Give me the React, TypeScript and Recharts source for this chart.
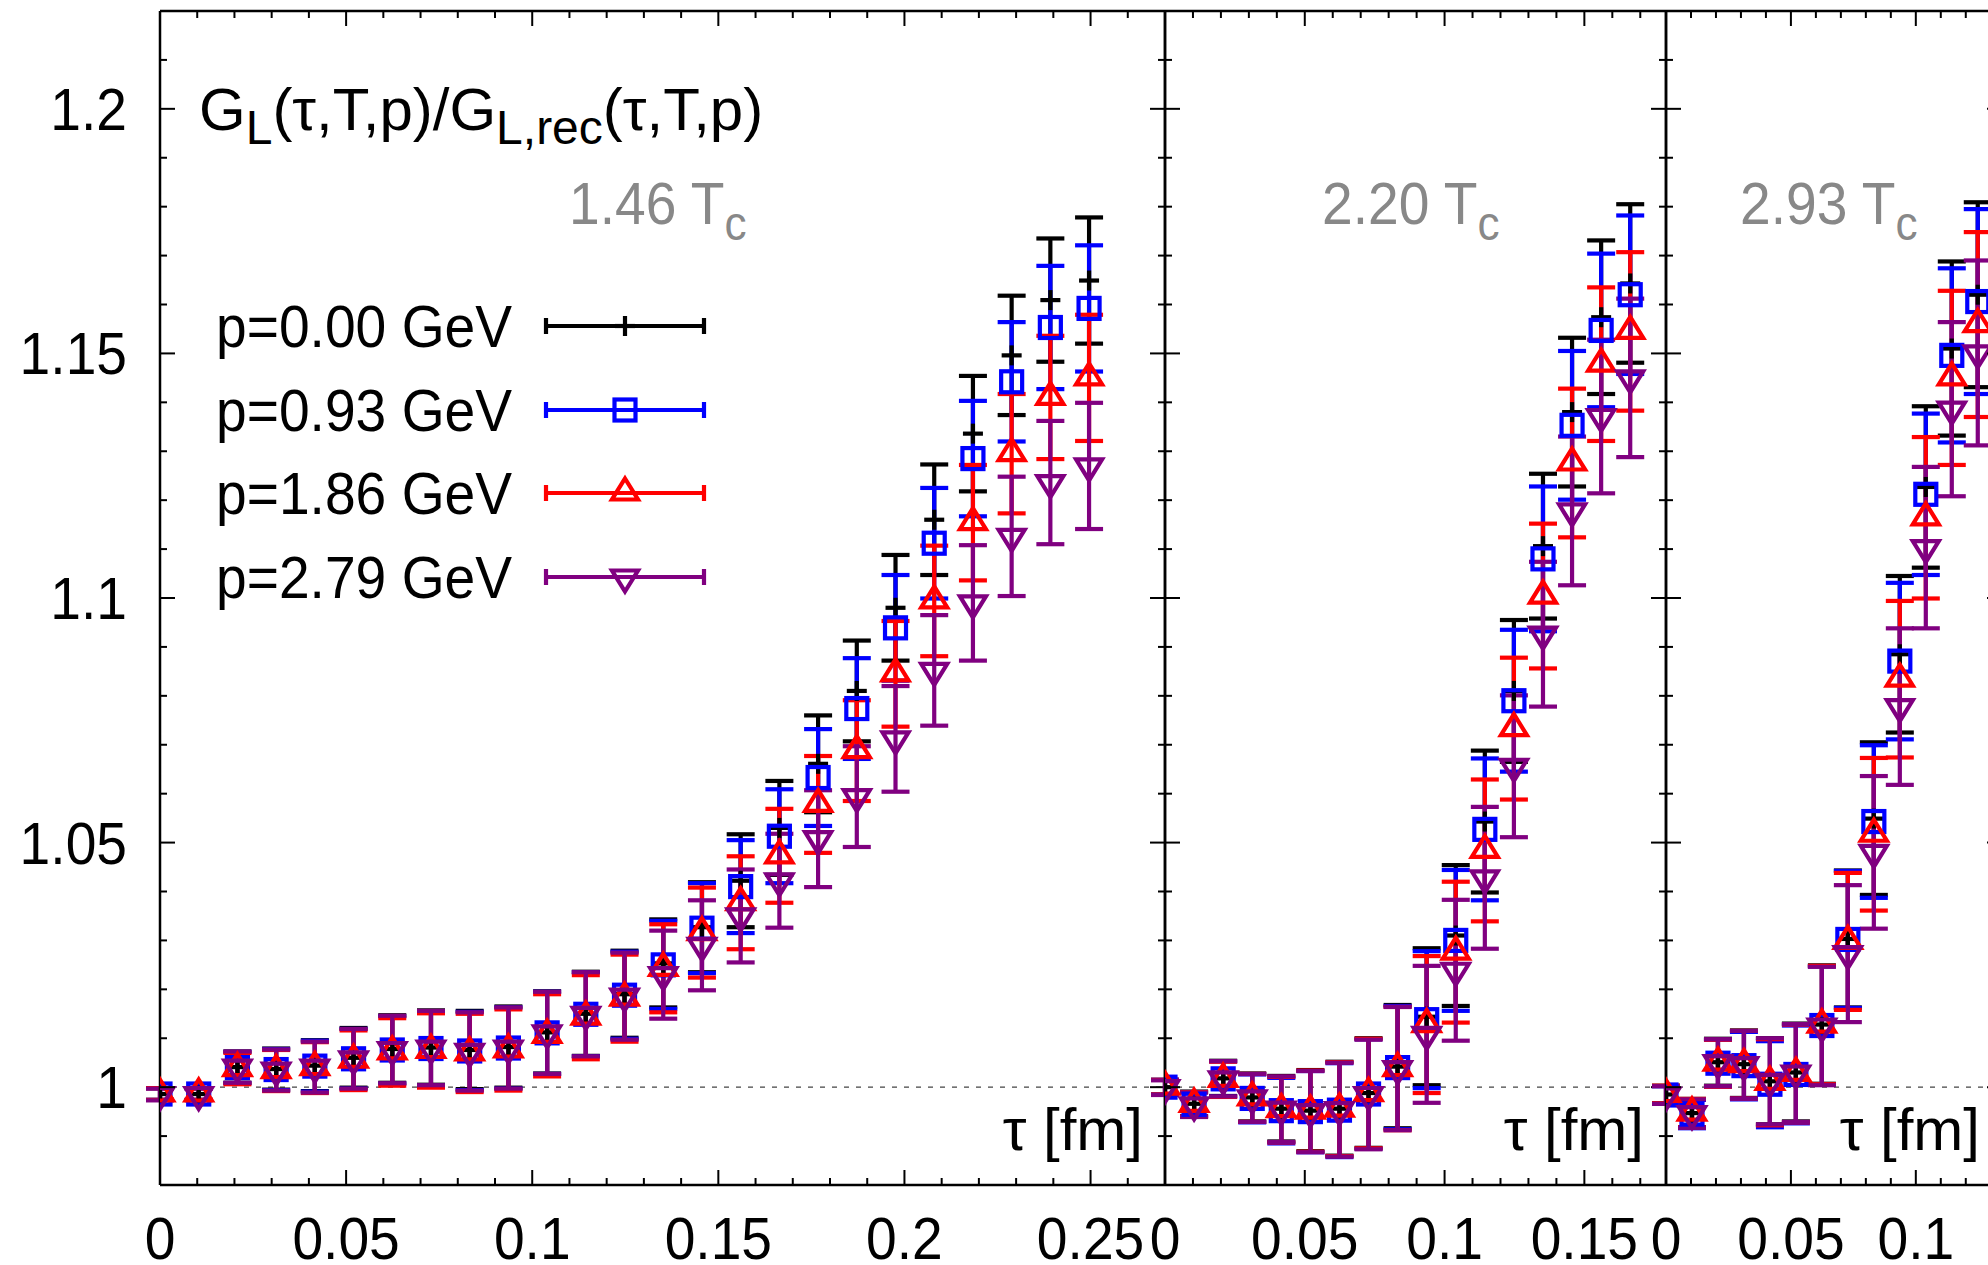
import { ScatterChart, Scatter, XAxis, YAxis, ErrorBar, ReferenceLine, Legend } from 'recharts'

const FONT = '"Liberation Sans", Arial, Helvetica, sans-serif'
const W = 1988
const H = 1265
const PLOT_TOP = 11
const PLOT_BOTTOM = 1185
const LW = 4.2

const SERIES_NAMES = ['p=0.00 GeV', 'p=0.93 GeV', 'p=1.86 GeV', 'p=2.79 GeV']
const COLORS = ['#000000', '#0000ff', '#ff0000', '#800080']
const KINDS = ['plus', 'square', 'up', 'down']

// tau [fm], same lattice spacing in all three panels
const TAU = [
  0, 0.0104, 0.0208, 0.0312, 0.0416, 0.052, 0.0624, 0.0728, 0.0832, 0.0936, 0.104, 0.1144, 0.1248,
  0.1352, 0.1456, 0.156, 0.1664, 0.1768, 0.1872, 0.1976, 0.208, 0.2184, 0.2288, 0.2392, 0.2496,
]

const X_TICKS = [
  0, 0.01, 0.02, 0.03, 0.04, 0.05, 0.06, 0.07, 0.08, 0.09, 0.1, 0.11, 0.12, 0.13, 0.14, 0.15,
  0.16, 0.17, 0.18, 0.19, 0.2, 0.21, 0.22, 0.23, 0.24, 0.25, 0.26, 0.27,
]
const Y_TICKS = [
  0.98, 0.99, 1.0, 1.01, 1.02, 1.03, 1.04, 1.05, 1.06, 1.07, 1.08, 1.09, 1.1, 1.11, 1.12, 1.13,
  1.14, 1.15, 1.16, 1.17, 1.18, 1.19, 1.2, 1.21, 1.22,
]

// 1.46 Tc
const T146_P000 = [0.9986, 0.9986, 1.0041, 1.0037, 1.0044, 1.006, 1.0078, 1.0081, 1.0076, 1.0082, 1.0112, 1.015, 1.019, 1.0253, 1.0327, 1.0422, 1.053, 1.0661, 1.081, 1.098, 1.116, 1.1336, 1.1496, 1.1609, 1.1649]
const T146_P093 = [0.9986, 0.9986, 1.004, 1.0036, 1.0043, 1.0058, 1.0076, 1.0079, 1.0074, 1.008, 1.0111, 1.0149, 1.0188, 1.025, 1.0325, 1.041, 1.0513, 1.0633, 1.0774, 1.0939, 1.1112, 1.1285, 1.1442, 1.1553, 1.1592]
const T146_P186 = [0.9986, 0.9986, 1.0038, 1.0034, 1.004, 1.0055, 1.0072, 1.0075, 1.007, 1.0076, 1.0106, 1.0143, 1.0182, 1.0243, 1.0316, 1.0377, 1.0473, 1.0578, 1.0688, 1.0845, 1.0994, 1.1154, 1.1295, 1.141, 1.145]
const T146_P279 = [0.9985, 0.9985, 1.0041, 1.0035, 1.0041, 1.0058, 1.0077, 1.008, 1.0073, 1.008, 1.0111, 1.0149, 1.0186, 1.023, 1.029, 1.035, 1.0422, 1.0508, 1.0594, 1.0712, 1.0852, 1.099, 1.1126, 1.1236, 1.127]
const T146_ERR = [0.0012, 0.0012, 0.0032, 0.0042, 0.0052, 0.0061, 0.0069, 0.0076, 0.008, 0.0083, 0.0084, 0.0086, 0.0089, 0.009, 0.0092, 0.0095, 0.0096, 0.0099, 0.0103, 0.0108, 0.0113, 0.0118, 0.0122, 0.0126, 0.0129]

// 2.20 Tc
const T220_P000 = [1.0, 0.9966, 1.0018, 0.9979, 0.9956, 0.9952, 0.9956, 0.9988, 1.0042, 1.0144, 1.031, 1.0543, 1.081, 1.1106, 1.138, 1.1574, 1.1643]
const T220_P093 = [1.0, 0.9965, 1.0017, 0.9977, 0.9952, 0.995, 0.9953, 0.9986, 1.004, 1.0138, 1.03, 1.0527, 1.079, 1.108, 1.1353, 1.1547, 1.162]
const T220_P186 = [1.0, 0.9965, 1.0016, 0.9978, 0.9954, 0.9951, 0.9955, 0.9987, 1.0038, 1.0128, 1.0276, 1.0484, 1.0733, 1.1004, 1.1276, 1.1478, 1.1545]
const T220_P279 = [0.9999, 0.9964, 1.0017, 0.9978, 0.9955, 0.995, 0.9954, 0.9985, 1.0038, 1.0108, 1.0239, 1.0428, 1.0656, 1.0926, 1.1178, 1.1371, 1.145]
const T220_ERR = [0.0015, 0.0025, 0.0036, 0.0049, 0.0067, 0.0083, 0.0096, 0.0112, 0.0126, 0.014, 0.0144, 0.0145, 0.0145, 0.0148, 0.0152, 0.0157, 0.0162]

// 2.93 Tc
const T293_P000 = [0.9985, 0.9947, 1.0051, 1.0047, 1.0012, 1.003, 1.0128, 1.0303, 1.0549, 1.0885, 1.1227, 1.151, 1.162]
const T293_P093 = [0.9984, 0.9945, 1.0049, 1.0044, 1.0006, 1.0026, 1.0126, 1.0302, 1.0543, 1.0871, 1.1212, 1.1496, 1.1606]
const T293_P186 = [0.9985, 0.9947, 1.0049, 1.0046, 1.001, 1.0028, 1.0127, 1.0298, 1.0517, 1.0834, 1.1164, 1.145, 1.1559]
const T293_P279 = [0.9984, 0.9946, 1.005, 1.0046, 1.0012, 1.0029, 1.0125, 1.0273, 1.048, 1.0778, 1.1103, 1.1386, 1.1501]
const T293_ERR = [0.0018, 0.0029, 0.0048, 0.0069, 0.0088, 0.01, 0.0121, 0.014, 0.0156, 0.016, 0.0165, 0.0178, 0.0189]

const PANELS = [
  { temp: '1.46', left: 160, width: 1005, xmax: 0.27, nTau: 25, values: [T146_P000, T146_P093, T146_P186, T146_P279], err: T146_ERR, tempX: 569 },
  { temp: '2.20', left: 1165, width: 501, xmax: 0.1792, nTau: 17, values: [T220_P000, T220_P093, T220_P186, T220_P279], err: T220_ERR, tempX: 1322 },
  { temp: '2.93', left: 1666, width: 336, xmax: 0.1345, nTau: 13, values: [T293_P000, T293_P093, T293_P186, T293_P279], err: T293_ERR, tempX: 1740 },
]

const isMajor = (v: number) => Math.round(v * 100) % 5 === 0

function Txt({ x, y, anchor = 'start', fill = '#000', size = 60, sx = 0.92, children }: any) {
  return (
    <text
      transform={`translate(${x},${y}) scale(${sx},1)`}
      textAnchor={anchor}
      fontFamily={FONT}
      fontSize={size}
      fill={fill}
    >
      {children}
    </text>
  )
}

function Marker({ cx, cy, kind, color }: any) {
  const common = { fill: 'none', stroke: color, strokeWidth: LW, strokeLinejoin: 'miter' as const }
  if (kind === 'plus') {
    return (
      <g {...common}>
        <line x1={cx - 10} x2={cx + 10} y1={cy} y2={cy} />
        <line x1={cx} x2={cx} y1={cy - 10} y2={cy + 10} />
      </g>
    )
  }
  if (kind === 'square') return <rect x={cx - 10.5} y={cy - 10.5} width={21} height={21} {...common} />
  if (kind === 'up') {
    return <path d={`M${cx},${cy - 14.5} L${cx + 13},${cy + 6.5} L${cx - 13},${cy + 6.5} Z`} {...common} />
  }
  return <path d={`M${cx},${cy + 14.5} L${cx + 13},${cy - 6.5} L${cx - 13},${cy - 6.5} Z`} {...common} />
}

function BottomTick({ x, y, payload }: any) {
  const v = payload.value
  const major = isMajor(v)
  return (
    <g>
      <line x1={x} x2={x} y1={y} y2={y - (major ? 15 : 7)} stroke="#000" strokeWidth={2} />
      {major && (
        <Txt x={x} y={y + 74} anchor="middle">
          {String(v)}
        </Txt>
      )}
    </g>
  )
}

function TopTick({ x, y, payload }: any) {
  const major = isMajor(payload.value)
  return <line x1={x} x2={x} y1={y} y2={y + (major ? 15 : 7)} stroke="#000" strokeWidth={2} />
}

function LeftTickLabelled({ x, y, payload }: any) {
  const v = payload.value
  const major = isMajor(v)
  return (
    <g>
      <line x1={x} x2={x + (major ? 15 : 7)} y1={y} y2={y} stroke="#000" strokeWidth={2} />
      {major && (
        <Txt x={x - 33} y={y + 21} anchor="end">
          {String(v)}
        </Txt>
      )}
    </g>
  )
}

function LeftTick({ x, y, payload }: any) {
  const major = isMajor(payload.value)
  return <line x1={x} x2={x + (major ? 15 : 7)} y1={y} y2={y} stroke="#000" strokeWidth={2} />
}

function RightTick({ x, y, payload }: any) {
  const major = isMajor(payload.value)
  return <line x1={x} x2={x - (major ? 15 : 7)} y1={y} y2={y} stroke="#000" strokeWidth={2} />
}

// legend drawn inside the first panel
const LEGEND_LEFT = 200
const LEGEND_TOP = 290
const LEGEND_ROWS = [36, 120, 203, 287]

function LegendBox({ payload }: any) {
  const items = (payload || []).filter((p: any) => SERIES_NAMES.includes(p.value))
  return (
    <svg width={560} height={330} style={{ display: 'block', overflow: 'visible' }}>
      {items.map((p: any, i: number) => {
        const k = SERIES_NAMES.indexOf(p.value)
        const cy = LEGEND_ROWS[i]
        const c = COLORS[k]
        return (
          <g key={p.value}>
            <Txt x={16} y={cy + 21}>
              {p.value}
            </Txt>
            <line x1={346} x2={504} y1={cy} y2={cy} stroke={c} strokeWidth={LW} />
            <line x1={346} x2={346} y1={cy - 8} y2={cy + 8} stroke={c} strokeWidth={LW} />
            <line x1={504} x2={504} y1={cy - 8} y2={cy + 8} stroke={c} strokeWidth={LW} />
            <Marker cx={425} cy={cy} kind={KINDS[k]} color={c} />
          </g>
        )
      })}
    </svg>
  )
}

function Panel({ cfg, index }: any) {
  const first = index === 0
  const ml = first ? 160 : 40
  const mr = 40
  const divLeft = cfg.left - ml
  const w = ml + cfg.width + mr
  const tau = TAU.slice(0, cfg.nTau)
  const xTicks = X_TICKS.filter((t) => t <= cfg.xmax + 1e-9)
  const rx = (px: number) => px - divLeft
  const axisLine = { stroke: '#000', strokeWidth: 2.5 }

  return (
    <div style={{ position: 'absolute', left: divLeft, top: 0 }}>
      <ScatterChart
        width={w}
        height={H}
        margin={{ top: PLOT_TOP - 1, right: mr - 1, bottom: H - PLOT_BOTTOM - 1, left: ml - 1 }}
      >
        <XAxis
          xAxisId="b"
          type="number"
          dataKey="x"
          domain={[0, cfg.xmax]}
          ticks={xTicks}
          interval={0}
          allowDataOverflow
          height={1}
          tickSize={0}
          tickMargin={0}
          tickLine={false}
          axisLine={axisLine}
          tick={BottomTick}
        />
        <XAxis
          xAxisId="t"
          orientation="top"
          type="number"
          dataKey="x"
          domain={[0, cfg.xmax]}
          ticks={xTicks}
          interval={0}
          allowDataOverflow
          height={1}
          tickSize={0}
          tickMargin={0}
          tickLine={false}
          axisLine={axisLine}
          tick={TopTick}
        />
        <YAxis
          yAxisId="l"
          type="number"
          dataKey="y"
          domain={[0.98, 1.22]}
          ticks={Y_TICKS}
          interval={0}
          allowDataOverflow
          width={1}
          tickSize={0}
          tickMargin={0}
          tickLine={false}
          axisLine={axisLine}
          tick={first ? LeftTickLabelled : LeftTick}
        />
        <YAxis
          yAxisId="r"
          orientation="right"
          type="number"
          dataKey="y"
          domain={[0.98, 1.22]}
          ticks={Y_TICKS}
          interval={0}
          allowDataOverflow
          width={1}
          tickSize={0}
          tickMargin={0}
          tickLine={false}
          axisLine={axisLine}
          tick={RightTick}
        />
        <ReferenceLine
          xAxisId="b"
          yAxisId="l"
          y={1}
          stroke="#444"
          strokeWidth={1.2}
          strokeDasharray="5 7"
        />
        {cfg.values.map((vals: number[], k: number) => (
          <Scatter
            key={SERIES_NAMES[k]}
            name={SERIES_NAMES[k]}
            xAxisId="b"
            yAxisId="l"
            data={tau.map((t: number, i: number) => ({ x: t, y: vals[i], e: cfg.err[i] }))}
            fill={COLORS[k]}
            isAnimationActive={false}
            shape={(p: any) => <Marker cx={p.cx} cy={p.cy} kind={KINDS[k]} color={COLORS[k]} />}
          >
            <ErrorBar
              dataKey="e"
              direction="y"
              width={14}
              strokeWidth={LW}
              stroke={COLORS[k]}
              isAnimationActive={false}
            />
          </Scatter>
        ))}
        {first && (
          <Legend
            layout="horizontal"
            verticalAlign="middle"
            align="center"
            content={LegendBox}
            wrapperStyle={{
              position: 'absolute',
              left: LEGEND_LEFT,
              top: LEGEND_TOP,
              width: 560,
              height: 330,
              margin: 0,
              padding: 0,
              lineHeight: 0,
            }}
          />
        )}
        {first && (
          <Txt x={rx(199)} y={130} sx={1}>
            G<tspan fontSize={48} dy={14}>L</tspan>
            <tspan fontSize={60} dy={-14}>(τ,T,p)/G</tspan>
            <tspan fontSize={48} dy={14}>L,rec</tspan>
            <tspan fontSize={60} dy={-14}>(τ,T,p)</tspan>
          </Txt>
        )}
        <Txt x={rx(cfg.tempX)} y={224} fill="#888888">
          {cfg.temp} T<tspan fontSize={48} dy={16}>c</tspan>
        </Txt>
        <Txt x={rx(cfg.left + cfg.width - 22)} y={1150} anchor="end" sx={1}>
          τ [fm]
        </Txt>
      </ScatterChart>
    </div>
  )
}

export default function App() {
  return (
    <div
      style={{
        position: 'absolute',
        left: 0,
        top: 0,
        width: W,
        height: H,
        overflow: 'hidden',
        background: '#fff',
      }}
    >
      {PANELS.map((cfg, i) => (
        <Panel key={cfg.temp} cfg={cfg} index={i} />
      ))}
    </div>
  )
}
